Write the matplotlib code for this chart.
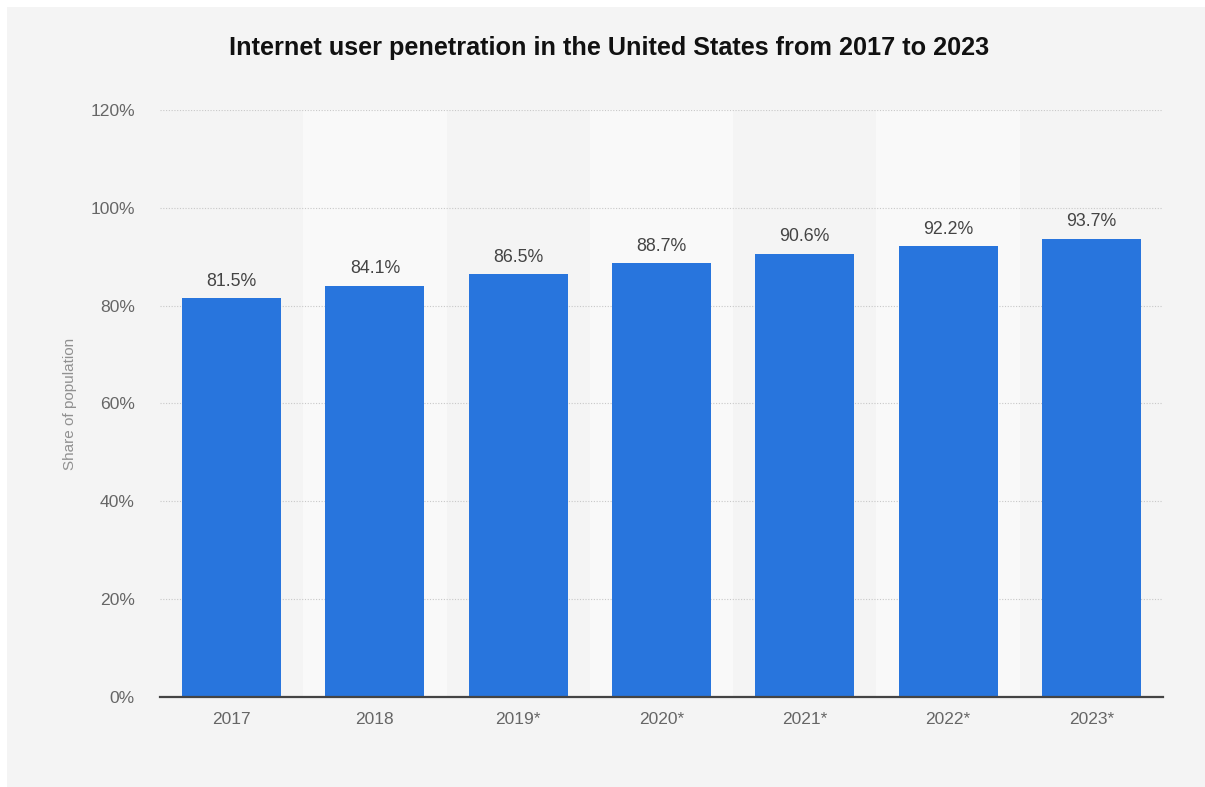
import matplotlib
matplotlib.use("Agg")
import matplotlib.pyplot as plt
from matplotlib.patches import Rectangle

# dados
anos = ["2017", "2018", "2019*", "2020*", "2021*", "2022*", "2023*"]
penetracao = [81.5, 84.1, 86.5, 88.7, 90.6, 92.2, 93.7]
rotulos = ["81.5%", "84.1%", "86.5%", "88.7%", "90.6%", "92.2%", "93.7%"]
y_ticks = [0, 20, 40, 60, 80, 100, 120]

plt.rcParams['font.family'] = ['Liberation Sans', 'DejaVu Sans']

fig = plt.figure(figsize=(12.05, 7.87), dpi=100)
fig.patch.set_facecolor("white")
# fundo cinza (faixa branca em cima e à esquerda)
fig.patches.append(Rectangle((7 / 1205, -0.01), 1, 1 - 7 / 787 + 0.01, transform=fig.transFigure,
                             facecolor="#f4f4f4", edgecolor="none", zorder=-10))

ax = fig.add_axes([160 / 1205, 90 / 787, 1003 / 1205, 587 / 787])
ax.set_facecolor("none")

x = range(len(anos))
# faixas alternadas
for i in x:
    if i % 2 == 1:
        ax.axvspan(i - 0.5, i + 0.5, ymin=0, ymax=1, color="#f9f9f9", zorder=0, lw=0)

ax.bar(x, penetracao, width=0.69, color="#2875dd", zorder=3)

for i, (v, r) in enumerate(zip(penetracao, rotulos)):
    ax.annotate(r, (i, v), xytext=(0, 6), textcoords="offset points",
                ha="center", va="bottom", fontsize=12.8, color="#444444")

ax.set_xlim(-0.5, len(anos) - 0.5)
ax.set_ylim(0, 120)
ax.set_yticks(y_ticks)
ax.set_yticklabels([f"{t}%" for t in y_ticks])
ax.set_xticks(list(x))
ax.set_xticklabels(anos)

ax.grid(axis="y", color="#c8c8c8", linestyle=(0, (1, 1.5)), linewidth=0.8, zorder=1)
ax.set_axisbelow(True)

for lado in ["top", "right", "left"]:
    ax.spines[lado].set_visible(False)
ax.spines["bottom"].set_color("#444444")
ax.spines["bottom"].set_linewidth(1.6)
ax.spines["bottom"].set_zorder(4)

ax.tick_params(axis="y", length=0, pad=18, labelsize=12.6, labelcolor="#666666")
ax.tick_params(axis="x", length=0, pad=11, labelsize=12.5, labelcolor="#666666")

fig.text(70 / 1205, 1 - 404 / 787, "Share of population", rotation=90,
         ha="center", va="center", fontsize=11, color="#909090")

fig.text(609 / 1205, 1 - 48 / 787, "Internet user penetration in the United States from 2017 to 2023",
         ha="center", va="center", fontsize=18.2, fontweight="bold", color="#111111")

fig.savefig("out.png", dpi=100, facecolor=fig.get_facecolor())
